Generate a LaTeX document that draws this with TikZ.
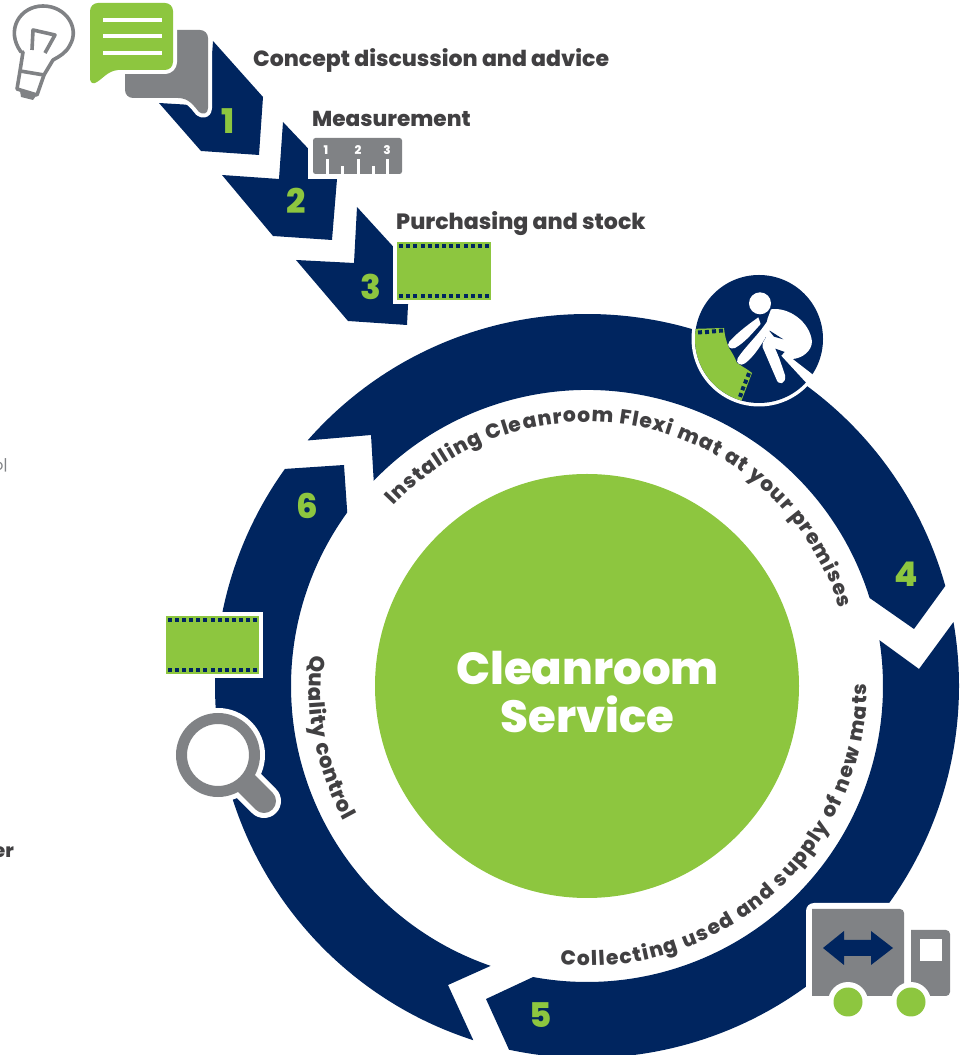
\documentclass[tikz,border=0pt]{standalone}
\usepackage{fontspec}
\setmainfont{Poppins}[BoldFont={Poppins ExtraBold}]
\usetikzlibrary{decorations.text,calc}
\definecolor{navy}{HTML}{00255F}
\definecolor{leaf}{HTML}{8DC63F}
\definecolor{steel}{HTML}{808285}
\definecolor{ink}{HTML}{414042}
\newcommand{\gfs}[1]{\bfseries\fontsize{#1}{#1}\selectfont}
\newcommand{\filmstrip}[5]{% x0 y0 x1 y1 : green box; #5 white margin
  \fill[white] (#1-#5,#2-#5) rectangle (#3+#5,#4+#5);
  \fill[leaf] (#1,#2) rectangle (#3,#4);
  \foreach \i in {0,...,12}{
    \fill[navy] ({#1+4+\i*(#3-#1-8)/12-2},#2+2.2) rectangle ++(4,4);
    \fill[navy] ({#1+4+\i*(#3-#1-8)/12-2},#4-6.2) rectangle ++(4,4);
  }}
\tikzset{
  heading/.style={text=ink,inner sep=0pt,anchor=west},
  stepnum/.style={font=\gfs{34},text=leaf,inner sep=0pt},
  rulernum/.style={font=\gfs{12},text=white,inner sep=0pt},
  navyfill/.style={fill=navy},
  haloed/.style={preaction={draw=white,line width=8pt,line join=round}},
}
\begin{document}
\begin{tikzpicture}[x=1pt,y=1pt]
\useasboundingbox (0,0) rectangle (960,1055);
\begin{scope}[shift={(0,1055)},yscale=-1]
\coordinate (c) at (587,686);
% ring
\fill[navyfill] ($(c)+(-138.7:372)$) arc[start angle=-138.7,end angle=-15.6,radius=372pt]
  -- (914,629) -- ($(c)+(-17.3:296)$) arc[start angle=-17.3,end angle=-136.1,radius=296pt]
  -- (371,435) -- cycle;
\fill[navyfill] ($(c)+(-9.9:372)$) arc[start angle=-9.9,end angle=102.1,radius=372pt]
  -- (486,999) -- ($(c)+(100.5:296)$) arc[start angle=100.5,end angle=-8.9,radius=296pt]
  -- (919,669) -- cycle;
\fill[navyfill] ($(c)+(107.8:372)$) arc[start angle=107.8,end angle=215.7,radius=372pt]
  -- (344,465) -- ($(c)+(215.9:296)$) arc[start angle=215.9,end angle=109,radius=296pt]
  -- (448,985) -- cycle;
\fill[leaf] (c) circle[radius=212pt];
% steps
\fill[navyfill] (213,41) -- (263,97) -- (259,155) -- (201,151) -- (159,103) -- (208,106) -- cycle;
\fill[navyfill] (283,122) -- (337,179) -- (332,240) -- (273,236) -- (222,175) -- (279,179) -- cycle;
\fill[navyfill] (357,207) -- (410,265) -- (407,325) -- (348,321) -- (296,260) -- (354,263) -- cycle;
% grey bubble
\fill[steel,haloed] (125,30) -- (200,30) arc[start angle=-90,end angle=0,radius=8pt] -- (208,108)
  .. controls (208,114) and (203,115) .. (199,112)
  .. controls (194,106) and (189,98) .. (178,98)
  -- (133,98) arc[start angle=90,end angle=180,radius=8pt] -- cycle;
% green bubble
\fill[leaf,haloed] (98,3) -- (165,3) arc[start angle=-90,end angle=0,radius=8pt] -- (173,62)
  arc[start angle=0,end angle=90,radius=8pt] -- (118,70)
  .. controls (107,71) and (102,80) .. (95,83)
  .. controls (92,84) and (90,82) .. (90,78)
  -- (90,11) arc[start angle=180,end angle=270,radius=8pt] -- cycle;
\foreach \y in {20,36.5,53}{\fill[white] (103,\y-2) rectangle (162,\y+2);}
% bulb
\draw[steel,line width=3.6pt,line join=round,line cap=round]
  (21,52) .. controls (5,30) and (20,6) .. (43,6)
  .. controls (66,6) and (80,28) .. (70,45)
  .. controls (66,53) and (60,56) .. (53,60) -- (44,75) -- (20,71) -- (23,52);
\draw[steel,line width=3.6pt,line join=round]
  (20,71) -- (17,89) -- (37,95) -- (44,75);
\fill[steel] (20,91) -- (36,96) -- (33,100) -- (21,97) -- cycle;
\draw[steel,line width=3.6pt,line join=round,line cap=butt]
  (32,50) -- (33,30) -- (55,35) -- (45,53);
% ruler
\fill[white] (308,133) rectangle (410,179);
\fill[steel,rounded corners=2.5pt] (313,138) rectangle (402,174);
\foreach \x in {327,358,387}{\fill[white] (\x-1.5,159) rectangle (\x+1.5,174);}
\foreach \x in {342,373}{\fill[white] (\x-1.5,166) rectangle (\x+1.5,174);}
% films
\filmstrip{397}{242}{491}{300}{4}
\filmstrip{166}{616}{259}{674}{4}
% lens
\draw[white,line width=34pt,line cap=round] (247,784) -- (264,801);
\fill[white] (218,755) circle[radius=47pt];
\draw[steel,line width=24pt,line cap=round] (247,784) -- (264,801);
\fill[white] (218,755) circle[radius=36pt];
\draw[steel,line width=11pt] (218,755) circle[radius=36.5pt];
% truck
\fill[white,rounded corners=8pt] (806,903) rectangle (915,1010);
\fill[steel] (812,996) -- (812,909) -- (900,909) arc[start angle=-90,end angle=0,radius=4pt] -- (904,996) -- cycle;
\fill[steel] (911,996) -- (911,930) -- (946,930) arc[start angle=-90,end angle=0,radius=4pt] -- (950,992) arc[start angle=0,end angle=90,radius=4pt] -- cycle;
\fill[white] (920,939) rectangle (942,961);
\fill[navyfill] (823,948) -- (844,931) -- (844,940) -- (871,940) -- (871,931) -- (893,948) -- (871,965) -- (871,956) -- (844,956) -- (844,965) -- cycle;
\fill[white] (848,1002) circle[radius=20pt] (911,1002) circle[radius=20pt];
\fill[leaf] (848,1002) circle[radius=14.5pt] (911,1002) circle[radius=14.5pt];
% installer badge
\fill[white] (759,339) circle[radius=67.5pt];
\fill[navyfill] (759,339) circle[radius=64pt];
\begin{scope}
\clip (759,339) circle[radius=64pt];
\fill[leaf] (690,329) -- (724,328) .. controls (725,338) and (727,343) .. (729,348)
  .. controls (733,354) and (735,358) .. (737,363) .. controls (743,367) and (747,369) .. (752,373)
  -- (741,402) -- (690,402) -- cycle;
\end{scope}
\begin{scope}[shift={(670,260)},x=.3333pt,y=.3333pt]
\foreach \p/\q in {90/217,111/216,132/214,153/212}{\fill[navy,rotate around={-4:(\p,\q)}] (\p-6,\q-6) rectangle (\p+6,\q+6);}
\foreach \p/\q in {235/345,227/365,219/385,212/405}{\fill[navy,rotate around={20:(\p,\q)}] (\p-6,\q-6) rectangle (\p+6,\q+6);}
\fill[white] (270,130) circle[radius=33];
% body and legs
\fill[white] (303,148) .. controls (355,140) and (420,185) .. (426,245)
  .. controls (425,275) and (395,295) .. (368,297) -- (430,345) -- (412,372) -- (320,272)
  -- (345,345) .. controls (350,372) and (325,380) .. (318,355)
  -- (278,262) .. controls (276,250) and (282,240) .. (288,232)
  -- (292,178) -- cycle;
\fill[navy] (316,266) -- (344,276) -- (328,293) -- cycle;
\fill[navy] (296,210) -- (340,238) -- (312,230) -- cycle;
% arms
\fill[white] (265,172) .. controls (240,190) and (205,215) .. (178,245)
  .. controls (168,258) and (180,270) .. (195,264)
  .. controls (225,247) and (245,222) .. (272,192) -- cycle;
\fill[white] (296,176) .. controls (275,215) and (225,260) .. (203,295)
  .. controls (195,310) and (213,320) .. (225,310)
  .. controls (250,292) and (272,257) .. (284,237)
  .. controls (290,224) and (296,214) .. (304,205) -- cycle;
\end{scope}
\end{scope}
% curved labels
\coordinate (cu) at (587,369);
\path[decorate,decoration={text along path,text align=fit to path,
  text={|\gfs{20.3}\color{ink}|Installing Cleanroom Flexi mat at your premises}}]
  (cu) ++(137:264pt) arc[start angle=137,end angle=17,radius=264pt];
\path[decorate,decoration={text along path,text align=fit to path,
  text={|\gfs{20.3}\color{ink}|Collecting used and supply of new mats}}]
  (cu) ++(264.5:280pt) arc[start angle=264.5,end angle=360.5,radius=280pt];
\path[decorate,decoration={text along path,text align=fit to path,
  text={|\gfs{21}\color{ink}|Quality control}}]
  (cu) ++(173.7:278pt) arc[start angle=173.7,end angle=209,radius=278pt];
% straight labels
\node[heading,font=\gfs{22}] (h1) at (253,995) {Concept discussion and advice};
\node[heading,font=\gfs{21.6}] (h2) at (312,936) {Measurement};
\node[heading,font=\gfs{22.1}] (h3) at (396,831) {Purchasing and stock};
\node[rulernum] (r1) at (326,905) {1};
\node[rulernum] (r2) at (358,905) {2};
\node[rulernum] (r3) at (387,905) {3};
\node[stepnum] (n1) at (228,934) {1};
\node[stepnum] (n2) at (296,854) {2};
\node[stepnum] (n3) at (371,768) {3};
\node[stepnum] (n4) at (906,481) {4};
\node[stepnum] (n5) at (541,40) {5};
\node[stepnum] (n6) at (307,549) {6};
\node[font=\gfs{45},text=white,inner sep=0pt,align=center] (title) at (587.5,363) {Cleanroom\\[3pt]Service};
\node[font=\fontsize{15}{15}\selectfont,text=steel,inner sep=0pt,anchor=east] (cutA) at (8,590) {o|};
\node[font=\gfs{19},text=ink,inner sep=0pt,anchor=east] (cutB) at (14,203) {er};
\end{tikzpicture}
\end{document}
